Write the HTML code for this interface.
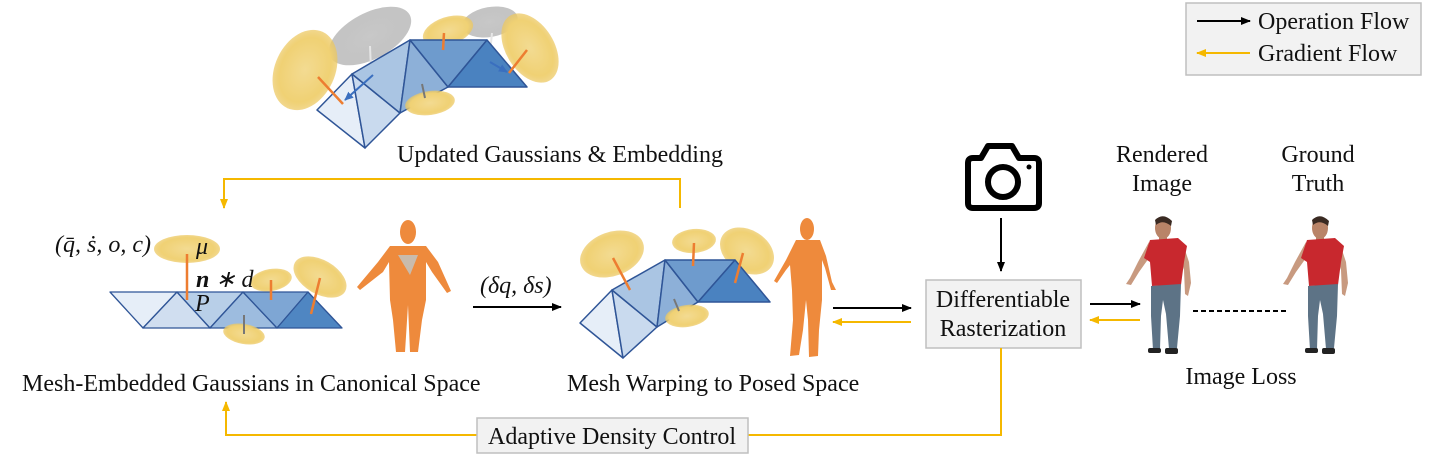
<!DOCTYPE html>
<html><head><meta charset="utf-8"><style>
html,body{margin:0;padding:0;background:#fff;}
svg{display:block;}
text{font-family:"Liberation Serif",serif;fill:#111;}
</style></head><body>
<svg width="1440" height="457" viewBox="0 0 1440 457" xmlns="http://www.w3.org/2000/svg">
<defs>
<marker id="ab" markerWidth="10" markerHeight="8" refX="9" refY="4" orient="auto" markerUnits="userSpaceOnUse"><path d="M0,0 L10,4 L0,8 Z" fill="#000"/></marker>
<marker id="ag" markerWidth="10" markerHeight="8" refX="9" refY="4" orient="auto" markerUnits="userSpaceOnUse"><path d="M0,0 L10,4 L0,8 Z" fill="#f5b800"/></marker>
<marker id="abl" markerWidth="9" markerHeight="8" refX="8" refY="4" orient="auto" markerUnits="userSpaceOnUse"><path d="M0,0 L9,4 L0,8 Z" fill="#3a6fbf"/></marker>
<radialGradient id="yg" cx="50%" cy="50%" r="50%"><stop offset="0" stop-color="#f3db92"/><stop offset="0.8" stop-color="#f0d174"/><stop offset="1" stop-color="#ecc75e" stop-opacity="0.7"/></radialGradient>
<radialGradient id="gg" cx="50%" cy="50%" r="50%"><stop offset="0" stop-color="#c8c8c8"/><stop offset="1" stop-color="#b5b5b5" stop-opacity="0.8"/></radialGradient>
<g id="person">
 <path d="M1149,242 L1138,262 L1130,278 L1126,284 L1131,285 L1139,272 L1149,258 Z" fill="#c89a80"/>
 <path d="M1183,244 L1189,262 L1191,283 L1188,296 L1185,294 L1184,270 L1180,255 Z" fill="#c89a80"/>
 <ellipse cx="1163" cy="228" rx="8" ry="11" fill="#b98468"/>
 <path d="M1155,220 Q1163,212 1172,221 L1171,226 Q1163,219 1156,225 Z" fill="#3a2a22"/>
 <rect x="1159" y="236" width="8" height="5" fill="#b98468"/>
 <path d="M1150,240 L1178,238 L1187,246 L1184,262 L1181,285 L1152,286 L1150,262 L1144,258 Z" fill="#c8282e"/>
 <path d="M1151,286 L1181,284 L1180,316 L1177,348 L1169,349 L1166,314 L1163,300 L1161,316 L1160,349 L1153,350 L1151,316 Z" fill="#5d7386"/>
 <rect x="1148" y="348" width="13" height="5" rx="2" fill="#222"/>
 <rect x="1165" y="348" width="13" height="6" rx="2" fill="#222"/>
</g>
</defs>

<!-- Legend -->
<rect x="1186" y="3" width="235" height="72" fill="#f2f2f2" stroke="#bfbfbf" stroke-width="1.5"/>
<line x1="1197" y1="21" x2="1250" y2="21" stroke="#000" stroke-width="2" marker-end="url(#ab)"/>
<text x="1258" y="29" font-size="24">Operation Flow</text>
<line x1="1250" y1="53" x2="1197" y2="53" stroke="#f5b800" stroke-width="2" marker-end="url(#ag)"/>
<text x="1258" y="61" font-size="24">Gradient Flow</text>

<!-- Top updated mesh -->
<ellipse cx="370" cy="36" rx="45" ry="23" transform="rotate(-28 370 36)" fill="url(#gg)"/>
<ellipse cx="490" cy="22" rx="28" ry="15" transform="rotate(-10 490 22)" fill="url(#gg)"/>
<ellipse cx="305" cy="70" rx="30" ry="42" transform="rotate(25 305 70)" fill="url(#yg)"/>
<ellipse cx="448" cy="31" rx="26" ry="14" transform="rotate(-18 448 31)" fill="url(#yg)"/>
<line x1="370" y1="46" x2="371" y2="70" stroke="#e6e6e6" stroke-width="2"/>
<line x1="492" y1="33" x2="489" y2="63" stroke="#e6e6e6" stroke-width="2"/>
<g stroke="#2f5597" stroke-width="1.5" stroke-linejoin="round">
<polygon points="317,110 352,74 365,148" fill="#e6eef8"/>
<polygon points="352,74 365,148 400,113" fill="#c9daee"/>
<polygon points="352,74 410,40 400,113" fill="#aac5e3"/>
<polygon points="410,40 400,113 448,87" fill="#8db0d8"/>
<polygon points="410,40 487,40 448,87" fill="#6e9bcd"/>
<polygon points="487,40 448,87 527,87" fill="#4a82c0"/>
</g>
<ellipse cx="430" cy="103" rx="25" ry="12" transform="rotate(-8 430 103)" fill="url(#yg)"/>
<line x1="422" y1="84" x2="425" y2="98" stroke="#777" stroke-width="2"/>
<ellipse cx="530" cy="48" rx="24" ry="38" transform="rotate(-32 530 48)" fill="url(#yg)"/>
<line x1="318" y1="77" x2="343" y2="104" stroke="#ed7d31" stroke-width="2.5"/>
<line x1="444" y1="33" x2="443" y2="50" stroke="#ed7d31" stroke-width="2.5"/>
<line x1="527" y1="50" x2="509" y2="73" stroke="#ed7d31" stroke-width="2.5"/>
<line x1="373" y1="75" x2="345" y2="100" stroke="#3a6fbf" stroke-width="2" marker-end="url(#abl)"/>
<line x1="490" y1="62" x2="507" y2="72" stroke="#3a6fbf" stroke-width="2" marker-end="url(#abl)"/>
<text x="560" y="162" font-size="24" text-anchor="middle">Updated Gaussians &amp; Embedding</text>

<!-- gold loop top -->
<polyline points="680,208 680,179 224,179 224,208" fill="none" stroke="#f5b800" stroke-width="2" marker-end="url(#ag)"/>

<!-- Canonical mesh -->
<g stroke="#2f5597" stroke-width="1.3" stroke-linejoin="round">
<polygon points="110,292 177,292 143,328" fill="#e6eef8"/>
<polygon points="177,292 143,328 210,328" fill="#d0def0"/>
<polygon points="177,292 243,292 210,328" fill="#b8cfe8"/>
<polygon points="243,292 210,328 277,328" fill="#9dbcdf"/>
<polygon points="243,292 308,292 277,328" fill="#7ea6d4"/>
<polygon points="308,292 277,328 342,328" fill="#4f86c2"/>
</g>
<ellipse cx="187" cy="249" rx="33" ry="14" fill="url(#yg)"/>
<line x1="187" y1="254" x2="187" y2="300" stroke="#ed7d31" stroke-width="2.5"/>
<ellipse cx="271" cy="280" rx="21" ry="11" transform="rotate(-10 271 280)" fill="url(#yg)"/>
<line x1="271" y1="280" x2="271" y2="300" stroke="#ed7d31" stroke-width="2.5"/>
<ellipse cx="320" cy="277" rx="29" ry="17" transform="rotate(30 320 277)" fill="url(#yg)"/>
<line x1="320" y1="278" x2="311" y2="314" stroke="#ed7d31" stroke-width="2.5"/>
<ellipse cx="244" cy="334" rx="21" ry="10" transform="rotate(10 244 334)" fill="url(#yg)"/>
<line x1="244" y1="315" x2="244" y2="334" stroke="#777" stroke-width="2"/>
<text x="55" y="252" font-size="24" font-style="italic">(q̄, ṡ, o, c)</text>
<text x="196" y="254" font-size="24" font-style="italic">μ</text>
<text x="196" y="287" font-size="24" font-style="italic"><tspan font-weight="bold">n</tspan> ∗ d</text>
<text x="195" y="311" font-size="24" font-style="italic">P</text>

<!-- canonical orange figure -->
<g fill="#ee8a3c">
<ellipse cx="408" cy="232" rx="8" ry="12"/>
<path d="M390,246 L426,246 L438,262 L451,291 L447,293 L432,272 L426,262 L426,300 L422,320 L418,352 L410,352 L408,305 L405,352 L396,352 L393,320 L390,300 L389,262 L383,272 L360,290 L357,287 L378,262 Z"/>
</g>
<path d="M398,255 L418,255 L410,275 Z" fill="#b9d0dc" opacity="0.7"/>

<!-- operation arrow with delta -->
<text x="480" y="293" font-size="24" font-style="italic">(δq, δs)</text>
<line x1="473" y1="307" x2="561" y2="307" stroke="#000" stroke-width="2" marker-end="url(#ab)"/>

<text x="22" y="391" font-size="24">Mesh-Embedded Gaussians in Canonical Space</text>
<text x="567" y="391" font-size="24">Mesh Warping to Posed Space</text>

<!-- Warped mesh -->
<ellipse cx="612" cy="254" rx="33" ry="22" transform="rotate(-20 612 254)" fill="url(#yg)"/>
<ellipse cx="694" cy="241" rx="22" ry="12" transform="rotate(-5 694 241)" fill="url(#yg)"/>
<ellipse cx="747" cy="251" rx="29" ry="21" transform="rotate(32 747 251)" fill="url(#yg)"/>
<g stroke="#2f5597" stroke-width="1.5" stroke-linejoin="round">
<polygon points="580,323 612,290 623,358" fill="#e6eef8"/>
<polygon points="612,290 623,358 657,327" fill="#c9daee"/>
<polygon points="612,290 665,260 657,327" fill="#aac5e3"/>
<polygon points="665,260 657,327 698,302" fill="#8db0d8"/>
<polygon points="665,260 735,260 698,302" fill="#6e9bcd"/>
<polygon points="735,260 698,302 770,302" fill="#4a82c0"/>
</g>
<ellipse cx="687" cy="316" rx="22" ry="11" transform="rotate(-8 687 316)" fill="url(#yg)"/>
<line x1="674" y1="299" x2="679" y2="311" stroke="#777" stroke-width="2"/>
<line x1="613" y1="258" x2="630" y2="290" stroke="#ed7d31" stroke-width="2.5"/>
<line x1="694" y1="243" x2="693" y2="266" stroke="#ed7d31" stroke-width="2.5"/>
<line x1="743" y1="253" x2="735" y2="283" stroke="#ed7d31" stroke-width="2.5"/>

<!-- posed orange figure -->
<g fill="#ee8a3c">
<ellipse cx="807" cy="229" rx="7" ry="11"/>
<path d="M796,240 L820,240 L826,256 L832,282 L836,290 L831,290 L825,268 L822,260 L822,300 L819,330 L818,356 L809,357 L808,320 L806,300 L803,330 L799,355 L790,356 L793,320 L792,290 L790,265 L786,270 L777,283 L774,281 L786,260 Z"/>
</g>

<!-- arrows into rasterizer -->
<line x1="833" y1="308" x2="911" y2="308" stroke="#000" stroke-width="2" marker-end="url(#ab)"/>
<line x1="911" y1="322" x2="833" y2="322" stroke="#f5b800" stroke-width="2" marker-end="url(#ag)"/>

<!-- camera -->
<g fill="none" stroke="#000" stroke-width="6" stroke-linejoin="round">
<path d="M968,163 Q968,158 973,158 L981,158 L988,146 L1012,146 L1019,158 L1034,158 Q1039,158 1039,163 L1039,203 Q1039,208 1034,208 L973,208 Q968,208 968,203 Z"/>
<circle cx="1003" cy="182" r="15"/>
</g>
<circle cx="1029" cy="167" r="2.5" fill="#000"/>
<line x1="1001" y1="218" x2="1001" y2="271" stroke="#000" stroke-width="2" marker-end="url(#ab)"/>

<rect x="926" y="280" width="155" height="68" fill="#f2f2f2" stroke="#bfbfbf" stroke-width="1.5"/>
<text x="1003" y="307" font-size="24" text-anchor="middle">Differentiable</text>
<text x="1003" y="336" font-size="24" text-anchor="middle">Rasterization</text>

<line x1="1090" y1="304" x2="1140" y2="304" stroke="#000" stroke-width="2" marker-end="url(#ab)"/>
<line x1="1140" y1="320" x2="1090" y2="320" stroke="#f5b800" stroke-width="2" marker-end="url(#ag)"/>

<text x="1162" y="162" font-size="24" text-anchor="middle">Rendered</text>
<text x="1162" y="191" font-size="24" text-anchor="middle">Image</text>
<text x="1318" y="162" font-size="24" text-anchor="middle">Ground</text>
<text x="1318" y="191" font-size="24" text-anchor="middle">Truth</text>
<use href="#person"/>
<use href="#person" transform="translate(157,0)"/>
<line x1="1193" y1="311" x2="1287" y2="311" stroke="#000" stroke-width="2" stroke-dasharray="5,3"/>
<text x="1241" y="384" font-size="24" text-anchor="middle">Image Loss</text>

<!-- bottom gold loop -->
<polyline points="1001,348 1001,435 748,435" fill="none" stroke="#f5b800" stroke-width="2"/>
<polyline points="477,435 226,435 226,402" fill="none" stroke="#f5b800" stroke-width="2" marker-end="url(#ag)"/>
<rect x="477" y="418" width="271" height="35" fill="#f2f2f2" stroke="#bfbfbf" stroke-width="1.5"/>
<text x="612" y="444" font-size="24" text-anchor="middle">Adaptive Density Control</text>
</svg>
</body></html>
